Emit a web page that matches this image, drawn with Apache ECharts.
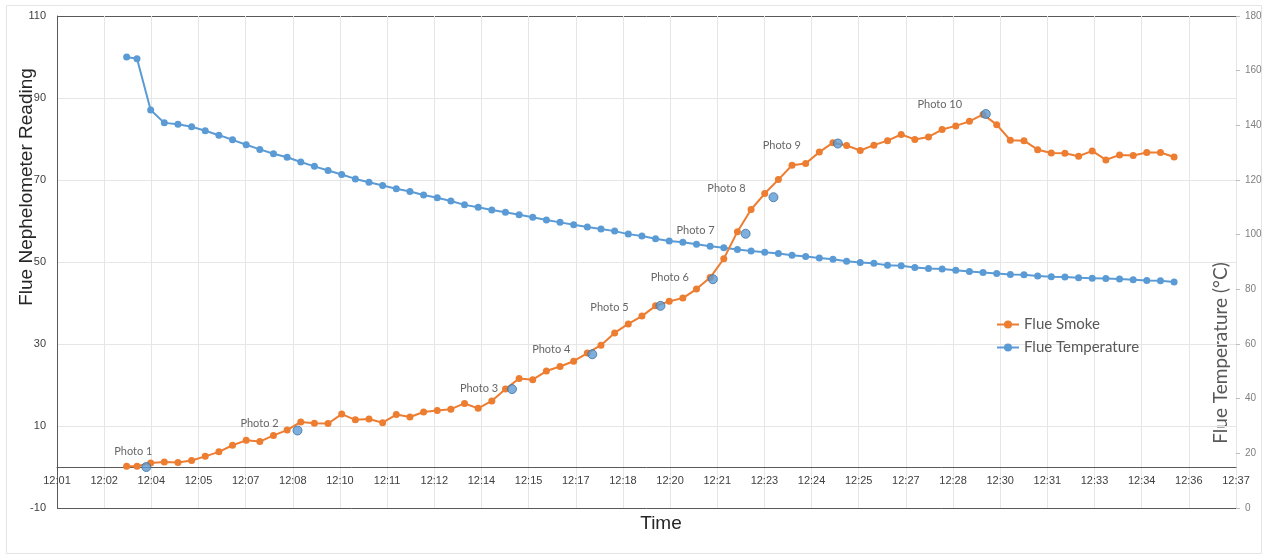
<!DOCTYPE html>
<html>
<head>
<meta charset="utf-8">
<style>
  html, body { margin: 0; padding: 0; background: #fff; }
  #chart { width: 1266px; height: 556px; }
</style>
<script src="https://cdn.jsdelivr.net/npm/echarts@6.0.0/dist/echarts.min.js"></script>
</head>
<body>
<div id="chart"></div>
<script>
// sample clock times (h:mm:ss)
const sampleTimes = [
  '12:03:34', '12:03:53', '12:04:18', '12:04:43', '12:05:08', '12:05:33', '12:05:58', '12:06:23',
  '12:06:48', '12:07:13', '12:07:38', '12:08:03', '12:08:28', '12:08:53', '12:09:18', '12:09:43',
  '12:10:08', '12:10:33', '12:10:58', '12:11:23', '12:11:48', '12:12:13', '12:12:38', '12:13:03',
  '12:13:28', '12:13:53', '12:14:18', '12:14:43', '12:15:08', '12:15:33', '12:15:58', '12:16:23',
  '12:16:48', '12:17:13', '12:17:38', '12:18:03', '12:18:28', '12:18:53', '12:19:18', '12:19:43',
  '12:20:08', '12:20:33', '12:20:58', '12:21:23', '12:21:48', '12:22:13', '12:22:38', '12:23:03',
  '12:23:28', '12:23:53', '12:24:18', '12:24:43', '12:25:08', '12:25:33', '12:25:58', '12:26:23',
  '12:26:48', '12:27:13', '12:27:38', '12:28:03', '12:28:28', '12:28:53', '12:29:18', '12:29:43',
  '12:30:08', '12:30:33', '12:30:58', '12:31:23', '12:31:48', '12:32:13', '12:32:38', '12:33:03',
  '12:33:28', '12:33:53', '12:34:18', '12:34:43', '12:35:08', '12:35:33'
];

// nephelometer reading (left axis)
const smokeValues = [
  0.2, 0.2, 1.0, 1.2, 1.1, 1.6, 2.6, 3.7,
  5.3, 6.5, 6.2, 7.7, 9.0, 11.0, 10.7, 10.6,
  12.9, 11.5, 11.7, 10.8, 12.8, 12.2, 13.4, 13.8,
  14.1, 15.5, 14.3, 16.1, 19.0, 21.6, 21.3, 23.4,
  24.5, 25.8, 27.8, 29.7, 32.7, 34.9, 36.8, 39.3,
  40.4, 41.2, 43.4, 46.2, 50.8, 57.4, 62.8, 66.7,
  70.1, 73.6, 74.0, 76.8, 79.1, 78.4, 77.2, 78.5,
  79.6, 81.1, 79.9, 80.5, 82.3, 83.2, 84.3, 86.0,
  83.5, 79.7, 79.6, 77.4, 76.6, 76.5, 75.8, 77.1,
  74.9, 76.1, 76.0, 76.7, 76.7, 75.6
];

// flue temperature in °C (right axis)
const temperatureValues = [
  165.0, 164.4, 145.6, 140.9, 140.4, 139.5, 138.0, 136.4,
  134.7, 132.9, 131.2, 129.6, 128.3, 126.6, 125.0, 123.5,
  122.0, 120.4, 119.2, 118.0, 116.8, 115.8, 114.5, 113.5,
  112.3, 110.9, 110.0, 109.0, 108.2, 107.3, 106.4, 105.4,
  104.5, 103.6, 102.8, 102.1, 101.3, 100.2, 99.5, 98.5,
  97.7, 97.2, 96.5, 95.8, 95.2, 94.6, 94.0, 93.6,
  93.1, 92.5, 92.0, 91.5, 91.0, 90.3, 89.8, 89.5,
  88.8, 88.6, 88.0, 87.6, 87.4, 87.0, 86.5, 86.2,
  85.8, 85.4, 85.3, 84.9, 84.6, 84.5, 84.2, 84.1,
  84.0, 83.8, 83.5, 83.2, 83.1, 82.7
];

// photo markers
const photoNames = ['Photo 1', 'Photo 2', 'Photo 3', 'Photo 4', 'Photo 5',
  'Photo 6', 'Photo 7', 'Photo 8', 'Photo 9', 'Photo 10'];
const photoTimes = ['12:04:10', '12:08:47', '12:15:20', '12:17:47', '12:19:52',
  '12:21:28', '12:22:28', '12:23:19', '12:25:17', '12:29:48'];
const photoValues = [0, 8.9, 19.0, 27.5, 39.3, 45.8, 56.9, 65.8, 78.9, 86.1];

// axis ticks
const xTickLabels = ['12:01', '12:02', '12:04', '12:05', '12:07', '12:08', '12:10', '12:11', '12:12',
  '12:14', '12:15', '12:17', '12:18', '12:20', '12:21', '12:23', '12:24', '12:25', '12:27', '12:28',
  '12:30', '12:31', '12:33', '12:34', '12:36', '12:37'];
const xAxisStart = '12:01:26.4';
const leftTicks = [-10, 10, 30, 50, 70, 90, 110];

// label placement for the photo notes (px from marker)
const photoLabelOffsets = [[-13, -16], [-38, -7], [-33, -1], [-41, -5], [-51, 2],
  [-43, -2], [-50, -3], [-47, -9], [-56, 2], [-46, -10]];

const toMs = s => {
  const [h, m, sec] = s.split(':');
  return Math.round((Number(h) * 3600 + Number(m) * 60 + Number(sec)) * 1000);
};

const xStep = 86400; // 0.001 day
const xMin = toMs(xAxisStart);
const xMax = xMin + (xTickLabels.length - 1) * xStep;

const orange = '#ED7D31';
const blue = '#5B9BD5';
const frame = '#595959';
const grid = '#e6e6e6';
const axisText = { fontFamily: 'Liberation Sans', fontSize: 11, color: '#404040' };

// outer split lines (-10 and 110) form the dark plot border
const hLineColors = leftTicks.map((v, i) => (i === 0 || i === leftTicks.length - 1 ? frame : grid));

const sampleMs = sampleTimes.map(toMs);

const chart = echarts.init(document.getElementById('chart'));

const option = {
  backgroundColor: '#fff',
  animation: false,
  grid: { left: 57, right: 30, top: 16, bottom: 48, outerBoundsMode: 'none' },
  legend: {
    data: ['Flue Smoke', 'Flue Temperature'],
    orient: 'vertical',
    left: 991,
    top: 312,
    itemWidth: 22,
    itemHeight: 10,
    itemGap: 8,
    textStyle: { fontFamily: 'Lato', fontSize: 15, color: '#595959' }
  },
  xAxis: {
    type: 'value',
    min: xMin,
    max: xMax,
    interval: xStep,
    axisLine: { onZero: true, onZeroAxisIndex: 0, lineStyle: { color: frame, width: 1 } },
    axisTick: { show: false },
    axisLabel: {
      ...axisText,
      // labels stay at the grid bottom, pull them up under the zero line
      margin: -33,
      showMinLabel: true,
      showMaxLabel: true,
      formatter: v => xTickLabels[Math.round((v - xMin) / xStep)] || ''
    },
    splitLine: { show: true, lineStyle: { color: grid } }
  },
  yAxis: [
    {
      type: 'value',
      position: 'left',
      min: -10,
      max: 110,
      axisLine: { show: true, onZero: false, lineStyle: { color: frame } },
      axisTick: { show: false, customValues: leftTicks },
      axisLabel: { ...axisText, margin: 11, customValues: leftTicks },
      splitLine: { show: true, lineStyle: { color: hLineColors } }
    },
    {
      type: 'value',
      position: 'right',
      min: 0,
      max: 180,
      interval: 20,
      axisLine: { show: false, onZero: false },
      axisTick: { show: true, length: 4, lineStyle: { color: '#bfbfbf' } },
      axisLabel: { fontFamily: 'Liberation Sans', fontSize: 10, color: '#7f7f7f', margin: 9 },
      splitLine: { show: false }
    }
  ],
  graphic: [
    {
      type: 'rect', silent: true, z: -10,
      shape: { x: 6.5, y: 5.5, width: 1255, height: 548 },
      style: { fill: 'none', stroke: '#e4e4e4', lineWidth: 1 }
    },
    {
      type: 'text', x: 27, y: 187, rotation: Math.PI / 2,
      style: {
        text: 'Flue Nephelometer Reading', fontFamily: 'Liberation Sans', fontSize: 19,
        fill: '#262626', align: 'center', verticalAlign: 'middle'
      }
    },
    {
      type: 'text', x: 1221, y: 353, rotation: Math.PI / 2,
      style: {
        text: 'Flue Temperature (°C)', fontFamily: 'Lato', fontSize: 19,
        fill: '#595959', align: 'center', verticalAlign: 'middle'
      }
    },
    {
      type: 'text', x: 661, y: 524,
      style: {
        text: 'Time', fontFamily: 'Liberation Sans', fontSize: 19,
        fill: '#262626', align: 'center', verticalAlign: 'middle'
      }
    }
  ],
  series: [
    {
      name: 'Flue Temperature',
      type: 'line',
      yAxisIndex: 1,
      data: sampleMs.map((t, i) => [t, temperatureValues[i]]),
      symbol: 'circle',
      symbolSize: 7,
      lineStyle: { width: 2, color: blue },
      itemStyle: { color: blue },
      z: 2
    },
    {
      name: 'Flue Smoke',
      type: 'line',
      yAxisIndex: 0,
      data: sampleMs.map((t, i) => [t, smokeValues[i]]),
      symbol: 'circle',
      symbolSize: 7,
      lineStyle: { width: 2, color: orange },
      itemStyle: { color: orange },
      z: 3
    },
    {
      name: 'Photos',
      type: 'scatter',
      yAxisIndex: 0,
      symbol: 'circle',
      symbolSize: 9,
      itemStyle: { color: blue, borderColor: '#41719C', borderWidth: 1 },
      label: {
        show: true,
        position: 'inside',
        fontFamily: 'Lato',
        fontSize: 11,
        color: '#404040',
        formatter: p => photoNames[p.dataIndex]
      },
      data: photoTimes.map((t, i) => ({
        value: [toMs(t), photoValues[i]],
        label: { offset: photoLabelOffsets[i] }
      })),
      z: 4
    }
  ]
};

chart.setOption(option);
</script>
</body>
</html>
